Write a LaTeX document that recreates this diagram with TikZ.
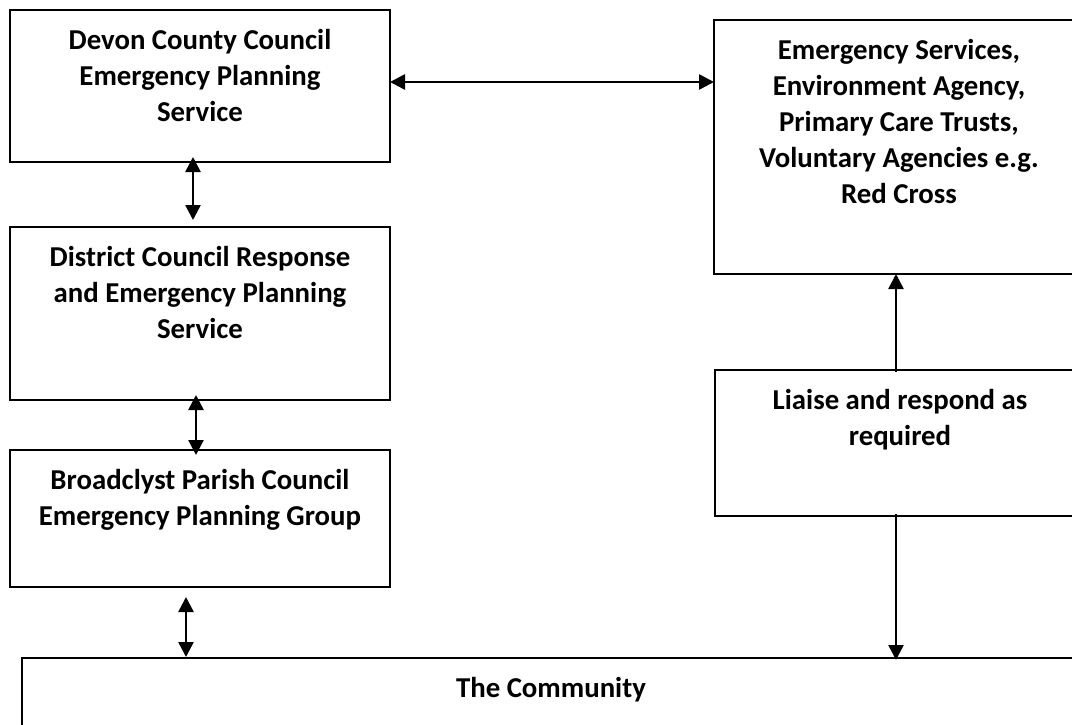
\documentclass[tikz,border=0pt]{standalone}
\usepackage{fontspec}
\setmainfont{Carlito}
\usetikzlibrary{arrows.meta}
\newcommand{\boxtext}[3]{\parbox[c][#1][t]{#2}{\centering\rule{0pt}{39.5pt}#3\par}}
\begin{document}
\begin{tikzpicture}[x=1pt,y=-1pt,
  orgbox/.style={draw=black, line width=1.8pt, inner sep=0pt, outer sep=0pt, rectangle,
     font=\fontsize{28.8}{36}\selectfont\bfseries},
  link/.style={line width=2.6pt, {Triangle[length=15pt,width=15pt]}-{Triangle[length=15pt,width=15pt]}},
  onelink/.style={line width=2.6pt, -{Triangle[length=15pt,width=15pt]}}]
\useasboundingbox (0,0) rectangle (1072,725);
\fill[white] (0,0) rectangle (1072,725);
\clip (0,0) rectangle (1072,725);

\node[orgbox] (devon) at (200,86) {\boxtext{152pt}{380pt}{Devon County Council\\Emergency Planning\\Service}};
\node[orgbox] (district) at (200,313.5) {\boxtext{173pt}{380pt}{District Council Response\\and Emergency Planning\\Service}};
\node[orgbox] (parish) at (200,518.5) {\boxtext{137pt}{380pt}{Broadclyst Parish Council\\Emergency Planning Group}};
\node[orgbox] (emerg) at (899,147) {\boxtext{254pt}{370pt}{Emergency Services,\\Environment Agency,\\Primary Care Trusts,\\Voluntary Agencies e.g.\\Red Cross}};
\node[orgbox] (liaise) at (900,443) {\boxtext{146pt}{370pt}{Liaise and respond as\\required}};
\node[orgbox] (community) at (551,703) {\boxtext{90pt}{1058pt}{The Community}};

\draw[link, shorten <=-5pt, shorten >=7pt] ([xshift=-7pt]devon.south) -- ([xshift=-7pt]district.north);
\draw[link, shorten <=-5pt, shorten >=-5pt] ([xshift=-4pt]district.south) -- ([xshift=-4pt]parish.north);
\draw[link, shorten <=10pt, shorten >=1pt] ([xshift=-14pt]parish.south) -- ([xshift=-14pt]parish.south |- community.north);
\draw[link] ([yshift=4pt]devon.east) -- ([yshift=4pt]devon.east -| emerg.west);
\draw[onelink, shorten <=-2pt] ([xshift=-4pt]liaise.north) -- ([xshift=-4pt]liaise.north |- emerg.south);
\draw[onelink, shorten <=-2pt, shorten >=-2pt] ([xshift=-4pt]liaise.south) -- ([xshift=-4pt]liaise.south |- community.north);
\end{tikzpicture}
\end{document}
